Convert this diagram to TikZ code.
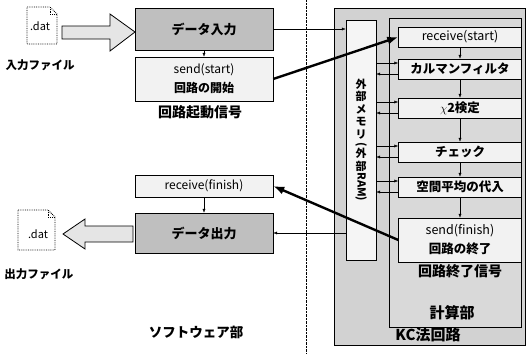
\documentclass[tikz,border=0pt]{standalone}
\usepackage{fontspec}
\setmainfont{Noto Sans CJK JP}
\usepackage{graphicx}
\usetikzlibrary{arrows.meta}
\tikzset{>={Latex[scale=.8]}}
\tikzset{
  hatchbox/.style={draw, fill=gray!50, minimum width=138pt, minimum height=42pt, inner sep=0pt, font=\bfseries\fontsize{13}{15}\selectfont},
  lightbox/.style={draw, fill=gray!10, minimum width=138pt, inner sep=0pt, align=center, font=\fontsize{12}{19}\selectfont},
  procbox/.style={draw, fill=gray!10, minimum width=123pt, minimum height=20pt, inner sep=0pt, align=center, font=\bfseries\fontsize{12.5}{19}\selectfont},
  biglabel/.style={font=\bfseries\fontsize{14}{16}\selectfont},
  filelabel/.style={font=\bfseries\fontsize{11.5}{13}\selectfont},
  fileicon/.style={draw, densely dotted, line width=.8pt, fill=white},
  hollow/.style={draw, thick, fill=gray!20},
  thinarrow/.style={->, thin},
  thickarrow/.style={->, line width=2.4pt},
}
\newcommand{\memtext}{外\\部\\メ\\モ\\リ\\[-3pt]\rotatebox[origin=c]{-90}{(}\\[-3pt]外\\部\\\rotatebox[origin=c]{-90}{RAM)}}

\begin{document}
\begin{tikzpicture}[x=1pt, y=-1pt]
        \useasboundingbox (0,0) rectangle (528,354);
        % regions
        \draw[fill=gray!35] (334,8) rectangle (525,345);
        \draw[fill=gray!30] (389,18) rectangle (521,327);
        \draw[densely dotted] (306,0) -- (306,354);
        % files
        \draw[fileicon] (27,7) -- (50,7) -- (57,14) -- (57,44) -- (27,44) -- cycle;
        \draw[densely dotted, line width=.8pt] (50,7) -- (50,14) -- (57,14);
        \node[font=\fontsize{11}{13}\selectfont] (infile) at (40,26) {.dat};
        \node[filelabel] (inlabel) at (40,65) {入力ファイル};
        \draw[fileicon] (18,210) -- (48,210) -- (55,217) -- (55,250) -- (18,250) -- cycle;
        \draw[densely dotted, line width=.8pt] (48,210) -- (48,217) -- (55,217);
        \node[font=\fontsize{11}{13}\selectfont] (outfile) at (38,234) {.dat};
        \node[filelabel] (outlabel) at (39,274) {出力ファイル};
        % software side
        \node[hatchbox] (datain) at (204,29) {データ入力};
        \node[lightbox, minimum height=44pt] (sendstart) at (204,79) {send(start)\\{\bfseries 回路の開始}};
        \node[biglabel] (startsig) at (200,112) {回路起動信号};
        \node[lightbox, minimum height=22pt] (recvfinish) at (204,186) {receive(finish)};
        \node[hatchbox, minimum height=40pt] (dataout) at (204,233) {データ出力};
        \node[biglabel, font=\bfseries\fontsize{13.5}{16}\selectfont] (swlabel) at (196,332) {ソフトウェア部};
        % hollow arrows
        \draw[hollow] (62,26) -- (110,26) -- (110,14) -- (135,32) -- (110,51) -- (110,39) -- (62,39) -- cycle;
        \draw[hollow] (133,226) -- (85,226) -- (85,219) -- (63,234) -- (85,249) -- (85,242) -- (133,242) -- cycle;
        % circuit side
        \node[draw, fill=gray!8, minimum width=30pt, minimum height=240pt, inner sep=0pt, align=center,
          font=\bfseries\fontsize{11}{12.6}\selectfont] (mem) at (361,140) {\memtext};
        \node[procbox, font=\fontsize{12.5}{15}\selectfont] (recvstart) at (460,37) {receive(start)};
        \node[procbox] (kalman) at (460,69) {カルマンフィルタ};
        \node[procbox] (chi) at (460,108) {$\chi$2検定};
        \node[procbox] (check) at (460,152) {チェック};
        \node[procbox] (avg) at (460,187) {空間平均の代入};
        \node[procbox, minimum height=44pt] (sendfinish) at (460,240) {{\mdseries send(finish)}\\回路の終了};
        \node[biglabel] (endsig) at (460,271) {回路終了信号};
        \node[biglabel, font=\bfseries\fontsize{15}{17}\selectfont] (calclabel) at (452,313) {計算部};
        \node[biglabel, font=\bfseries\fontsize{15}{17}\selectfont] (kclabel) at (428,335) {KC法回路};
        % lines
        \draw[thinarrow] (datain) -- (sendstart);
        \draw[thinarrow] (recvfinish) -- (dataout);
        \draw[thinarrow] (datain.east) -- (datain.east -| mem.west);
        \draw[thinarrow] (mem.west |- dataout.east) -- (dataout.east);
        \draw[thickarrow] (sendstart.east) -- (recvstart.west);
        \draw[thickarrow] (sendfinish.west) -- (recvfinish.east);
        \draw[thinarrow] (recvstart) -- (kalman);
        \draw[thinarrow] (kalman) -- (chi);
        \draw[thinarrow] (chi) -- (check);
        \draw[thinarrow] (check) -- (avg);
        \draw[thinarrow] (avg) -- (sendfinish);
        \foreach \p in {kalman, chi, check, avg} {
          \path (\p.west) ++(0,-6) coordinate (\p-in);
          \path (\p.west) ++(0,5) coordinate (\p-out);
          \draw[thinarrow] (mem.east |- \p-in) -- (\p-in);
          \draw[thinarrow] (\p-out) -- (mem.east |- \p-out);
        }
      \end{tikzpicture}
\end{document}
